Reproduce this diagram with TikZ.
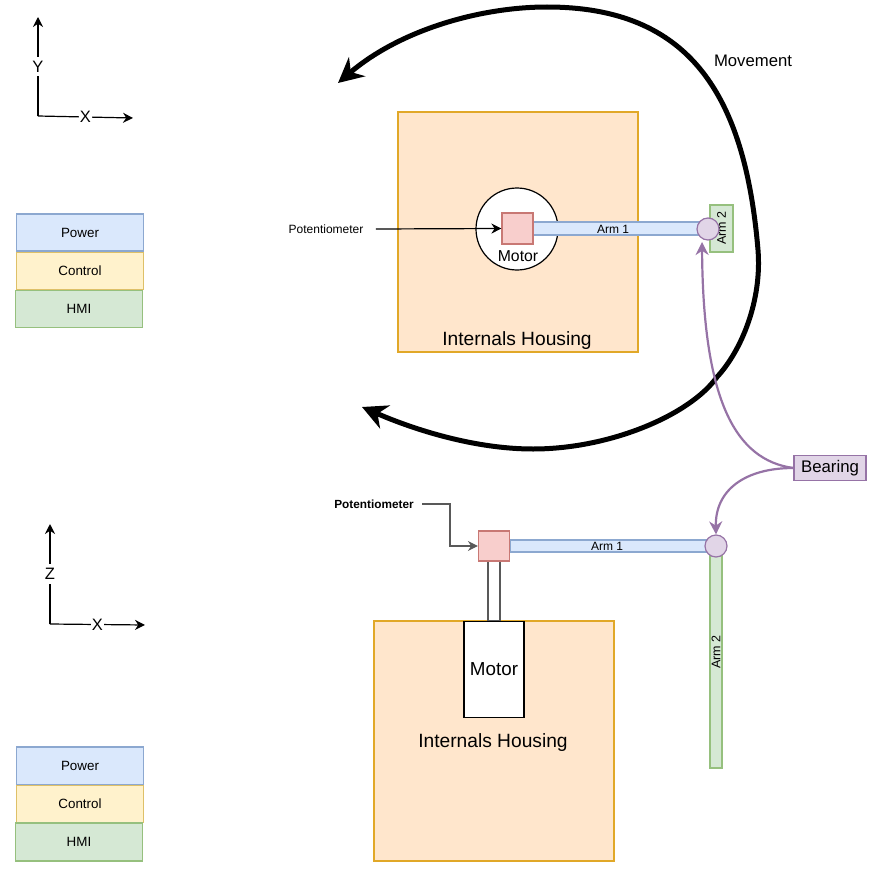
\documentclass[tikz,border=0pt]{standalone}
\usepackage{fontspec}
\setmainfont{Liberation Sans}
\usepackage{tikz}
\usetikzlibrary{arrows.meta}
\definecolor{bluefill}{RGB}{218,232,252}
\definecolor{blueline}{RGB}{140,168,208}
\definecolor{yellowfill}{RGB}{255,242,204}
\definecolor{yellowline}{RGB}{222,192,104}
\definecolor{greenfill}{RGB}{213,232,212}
\definecolor{greenline}{RGB}{150,192,126}
\definecolor{redfill}{RGB}{248,206,204}
\definecolor{redline}{RGB}{200,120,116}
\definecolor{purplefill}{RGB}{225,213,231}
\definecolor{purpleline}{RGB}{150,115,166}
\definecolor{orangefill}{RGB}{255,230,204}
\definecolor{orangeline}{RGB}{225,168,40}
\tikzset{
    blockbox/.style={
        draw,
        line width=1.2pt,
        inner sep=0pt,
        font=\fontsize{13.4}{15}\selectfont
    },
    bluebox/.style={blockbox, draw=blueline, fill=bluefill},
    yellowbox/.style={blockbox, draw=yellowline, fill=yellowfill},
    greenbox/.style={blockbox, draw=greenline, fill=greenfill},
    redbox/.style={blockbox, draw=redline, fill=redfill},
    housingbox/.style={blockbox, draw=orangeline, fill=orangefill},
    bearingdot/.style={
        circle,
        draw=purpleline,
        fill=purplefill,
        line width=1.2pt,
        inner sep=0pt,
        minimum size=22pt
    },
    axisarrow/.style={
        line width=1.2pt,
        black,
        -{Stealth[length=10pt, width=10pt]}
    },
    purplearrow/.style={
        line width=2.2pt,
        purpleline,
        -{Stealth[length=13pt, width=13pt]}
    },
    bigarrow/.style={
        line width=5pt,
        black,
        {Stealth[length=25pt, width=25pt]}-{Stealth[length=25pt, width=25pt]}
    },
    axislabel/.style={fill=white, inner xsep=1pt, inner ysep=4pt, font=\fontsize{16.5}{18}\selectfont}
}

\begin{document}
\begin{tikzpicture}[x=1pt,y=-1pt]
    \useasboundingbox (0,0) rectangle (878,875);
    % top view
    \node[housingbox, minimum width=240pt, minimum height=240pt] (housingtop) at (518,232) {};
    \node[font=\fontsize{19.2}{21}\selectfont] (housingtoptext) at (517,341) {Internals Housing};
    \node[circle, draw, fill=white, line width=1.2pt, minimum size=82pt, inner sep=0pt] (motorround) at (517,229) {};
    \node[greenbox, minimum width=23pt, minimum height=47pt] (armtwotop) at (721.5,228.5) {};
    \node[bluebox, minimum width=170pt, minimum height=13pt] (armonetop) at (618,228.5) {};
    \node[font=\fontsize{12}{14}\selectfont] (armonetoptext) at (613,229.5) {Arm 1};
    \node[rotate=90, font=\fontsize{12.5}{14}\selectfont] (armtwotoptext) at (721.5,228) {Arm 2};
    \node[redbox, minimum width=31pt, minimum height=31pt] (pottop) at (517.5,228.5) {};
    \node[font=\fontsize{15.8}{17}\selectfont] (motortoptext) at (518,256.5) {Motor};
    \node[bearingdot] (bearingtop) at (708,229) {};
    \node[font=\fontsize{12}{14}\selectfont] (pottoptext) at (326,229.5) {Potentiometer};
    \draw[axisarrow] (pottoptext.east)++(9,-0.5) -- (pottop.west);
    % movement
    \node[font=\fontsize{16.7}{18}\selectfont] (movetext) at (753,60.5) {Movement};
    \coordinate (movestart) at (338,83);
    \coordinate (moveend) at (362,407);
    \draw[bigarrow] (movestart) .. controls (400,30) and (480,7) .. (547,7)
        .. controls (690,7) and (745,95) .. (758,250)
        .. controls (762,300) and (742,350) .. (717,377)
        .. controls (690,415) and (610,449) .. (533,449)
        .. controls (475,449) and (415,430) .. (moveend);
    % side view
    \node[housingbox, minimum width=240pt, minimum height=240pt] (housingside) at (494,741) {};
    \node[blockbox, fill=white, draw=black!65, minimum width=12pt, minimum height=60pt] (shaft) at (494,591) {};
    \node[blockbox, fill=white, draw=black, minimum width=60pt, minimum height=96pt, font=\fontsize{18.8}{20}\selectfont] (motorside) at (494,669.5) {Motor};
    \node[font=\fontsize{19.2}{21}\selectfont] (housingsidetext) at (493,743) {Internals Housing};
    \node[greenbox, minimum width=12pt, minimum height=222pt] (armtwoside) at (716,657) {};
    \node[bluebox, minimum width=198pt, minimum height=12pt] (armoneside) at (609,546) {};
    \node[font=\fontsize{12}{14}\selectfont] (armonesidetext) at (607,546.5) {Arm 1};
    \node[rotate=90, font=\fontsize{12.5}{14}\selectfont] (armtwosidetext) at (716,652) {Arm 2};
    \node[redbox, minimum width=31pt, minimum height=30pt] (potside) at (494,546) {};
    \node[bearingdot] (bearingside) at (716,546) {};
    \node[font=\bfseries\fontsize{11.8}{13}\selectfont] (potsidetext) at (374,504) {Potentiometer};
    \draw[axisarrow, draw=black!65] (potsidetext.east)++(5,0) -| (450,546) -- (potside.west);
    % bearing callouts
    \node[blockbox, draw=purpleline, fill=purplefill, minimum width=72pt, minimum height=25pt, font=\fontsize{16.8}{18}\selectfont] (bearinglabel) at (830,468) {Bearing};
    \draw[purplearrow] (bearinglabel.west) .. controls (735,460) and (703,400) .. (702,242);
    \draw[purplearrow] (bearinglabel.west) .. controls (745,468) and (715,490) .. (bearingside.north);
    % axes top
    \coordinate (origintop) at (38,116);
    \coordinate (ytop) at (38,17);
    \coordinate (xtop) at (133,118);
    \draw[axisarrow] (origintop) -- node[axislabel] (ytoptext) {Y} (ytop);
    \draw[axisarrow] (origintop) -- node[axislabel] (xtoptext) {X} (xtop);
    % axes side
    \coordinate (originside) at (50,624);
    \coordinate (zside) at (50,524);
    \coordinate (xside) at (145,625);
    \draw[axisarrow] (originside) -- node[axislabel] (zsidetext) {Z} (zside);
    \draw[axisarrow] (originside) -- node[axislabel] (xsidetext) {X} (xside);
    % layer stacks
    \node[bluebox, minimum width=127pt, minimum height=37pt] (powertop) at (80,232.5) {Power};
    \node[yellowbox, minimum width=127pt, minimum height=37pt] (controltop) at (80,271) {Control};
    \node[greenbox, minimum width=127pt, minimum height=37pt] (hmitop) at (79,309) {HMI};
    \node[bluebox, minimum width=127pt, minimum height=38pt] (powerside) at (80,766) {Power};
    \node[yellowbox, minimum width=127pt, minimum height=37pt] (controlside) at (80,804) {Control};
    \node[greenbox, minimum width=127pt, minimum height=38pt] (hmiside) at (79,842) {HMI};
\end{tikzpicture}
\end{document}
